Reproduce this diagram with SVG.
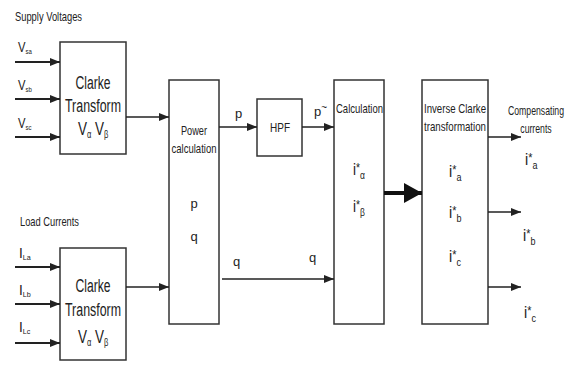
<svg xmlns="http://www.w3.org/2000/svg" width="579" height="365" viewBox="0 0 579 365">
<style>
text{font-family:"Liberation Sans Narrow","Arial Narrow","Liberation Sans",sans-serif;fill:#222}
.box{fill:#fff;stroke:#333;stroke-width:1.5}
.ln{fill:none;stroke:#222;stroke-width:1.5}
.in{fill:none;stroke:#222;stroke-width:2}
.s{font-size:13px}
.m{font-size:16px}
.v{font-size:15px}
.l{font-size:18px}
.sub{font-size:10px}
.tiny{font-size:8px}
.st{font-size:12px}
</style>
<defs>
<marker id="ah" markerWidth="10" markerHeight="8" refX="10" refY="4" orient="auto" markerUnits="userSpaceOnUse">
<path d="M0,0 L10,4 L0,8 Z" fill="#222"/>
</marker>
<marker id="big" markerWidth="18" markerHeight="20" refX="18" refY="10" orient="auto" markerUnits="userSpaceOnUse">
<path d="M0,0 L18,10 L0,20 Z" fill="#111"/>
</marker>
</defs>
<text x="15" y="21" class="s" textLength="67" lengthAdjust="spacingAndGlyphs">Supply Voltages</text>
<text x="20" y="226" class="s" textLength="59" lengthAdjust="spacingAndGlyphs">Load Currents</text>
<g id="clarke1">
<rect class="box" x="60" y="42" width="66" height="112"/>
<text x="93" y="89" class="l" text-anchor="middle" textLength="35" lengthAdjust="spacingAndGlyphs">Clarke</text>
<text x="93" y="112" class="l" text-anchor="middle" textLength="56" lengthAdjust="spacingAndGlyphs">Transform</text>
<text transform="translate(78,135) scale(0.75,1)" class="l">V<tspan class="sub" dy="3">α</tspan><tspan dy="-3"> V</tspan><tspan class="sub" dy="3">β</tspan></text>
</g>
<g id="clarke2">
<rect class="box" x="60" y="248" width="66" height="112"/>
<text x="93" y="292" class="l" text-anchor="middle" textLength="35" lengthAdjust="spacingAndGlyphs">Clarke</text>
<text x="93" y="316" class="l" text-anchor="middle" textLength="56" lengthAdjust="spacingAndGlyphs">Transform</text>
<text transform="translate(78,343) scale(0.75,1)" class="l">V<tspan class="sub" dy="3">α</tspan><tspan dy="-3"> V</tspan><tspan class="sub" dy="3">β</tspan></text>
</g>
<g id="power">
<rect class="box" x="169" y="80" width="50" height="244"/>
<text x="194" y="135" class="s" text-anchor="middle" textLength="26" lengthAdjust="spacingAndGlyphs">Power</text>
<text x="194" y="153" class="s" text-anchor="middle" textLength="45" lengthAdjust="spacingAndGlyphs">calculation</text>
<text x="194" y="208" class="s" text-anchor="middle">p</text>
<text x="194" y="241" class="s" text-anchor="middle">q</text>
</g>
<g id="hpf">
<rect class="box" x="257" y="99" width="45" height="57"/>
<text x="280" y="132" class="s" text-anchor="middle" textLength="20" lengthAdjust="spacingAndGlyphs">HPF</text>
</g>
<g id="calc">
<rect class="box" x="334" y="80" width="50" height="244"/>
<text x="336" y="113" class="s" textLength="47" lengthAdjust="spacingAndGlyphs">Calculation</text>
<text transform="translate(353,175) scale(0.85,1)" class="m">i<tspan class="st" dy="-3">*</tspan><tspan class="sub" dy="7">α</tspan></text>
<text transform="translate(353,212) scale(0.85,1)" class="m">i<tspan class="st" dy="-3">*</tspan><tspan class="sub" dy="7">β</tspan></text>
</g>
<g id="invclarke">
<rect class="box" x="422" y="80" width="66" height="244"/>
<text x="455" y="113" class="s" text-anchor="middle" textLength="62" lengthAdjust="spacingAndGlyphs">Inverse Clarke</text>
<text x="455" y="131" class="s" text-anchor="middle" textLength="62" lengthAdjust="spacingAndGlyphs">transformation</text>
<text transform="translate(449,177) scale(0.9,1)" class="m">i<tspan class="st" dy="-3">*</tspan><tspan class="sub" dy="7">a</tspan></text>
<text transform="translate(449,218) scale(0.9,1)" class="m">i<tspan class="st" dy="-3">*</tspan><tspan class="sub" dy="7">b</tspan></text>
<text transform="translate(449,262) scale(0.9,1)" class="m">i<tspan class="st" dy="-3">*</tspan><tspan class="sub" dy="7">c</tspan></text>
</g>
<g id="outputs">
<text transform="translate(536,115) scale(0.67,1)" class="s" text-anchor="middle">Compensating</text>
<text transform="translate(536,133) scale(0.67,1)" class="s" text-anchor="middle">currents</text>
<text transform="translate(525,165) scale(0.9,1)" class="m">i<tspan class="st" dy="-3">*</tspan><tspan class="sub" dy="7">a</tspan></text>
<text transform="translate(523,241) scale(0.9,1)" class="m">i<tspan class="st" dy="-3">*</tspan><tspan class="sub" dy="7">b</tspan></text>
<text transform="translate(524,318) scale(0.9,1)" class="m">i<tspan class="st" dy="-3">*</tspan><tspan class="sub" dy="7">c</tspan></text>
</g>
<g id="input-labels">
<text transform="translate(18,52) scale(0.75,1)" class="v">V<tspan class="tiny" dy="2">sa</tspan></text>
<text transform="translate(18,90) scale(0.75,1)" class="v">V<tspan class="tiny" dy="2">sb</tspan></text>
<text transform="translate(18,128) scale(0.75,1)" class="v">V<tspan class="tiny" dy="2">sc</tspan></text>
<text transform="translate(19,258) scale(0.9,1)" class="v">I<tspan class="tiny" dy="2">La</tspan></text>
<text transform="translate(19,295) scale(0.9,1)" class="v">I<tspan class="tiny" dy="2">Lb</tspan></text>
<text transform="translate(19,332) scale(0.9,1)" class="v">I<tspan class="tiny" dy="2">Lc</tspan></text>
<text x="235" y="118" class="s">p</text>
<text x="314" y="116" class="s">p<tspan class="sub" dy="-5">~</tspan></text>
<text x="233" y="266" class="s">q</text>
<text x="309" y="262" class="s">q</text>
</g>
<g id="connectors">
<line class="in" x1="15" y1="62" x2="60" y2="62" marker-end="url(#ah)"/>
<line class="in" x1="15" y1="99" x2="60" y2="99" marker-end="url(#ah)"/>
<line class="in" x1="15" y1="137" x2="60" y2="137" marker-end="url(#ah)"/>
<line class="in" x1="15" y1="267" x2="60" y2="267" marker-end="url(#ah)"/>
<line class="in" x1="15" y1="304" x2="60" y2="304" marker-end="url(#ah)"/>
<line class="in" x1="15" y1="343" x2="60" y2="343" marker-end="url(#ah)"/>
<line class="ln" x1="126" y1="117" x2="169" y2="117" marker-end="url(#ah)"/>
<line class="ln" x1="126" y1="287" x2="169" y2="287" marker-end="url(#ah)"/>
<line class="ln" x1="219" y1="127" x2="257" y2="127" marker-end="url(#ah)"/>
<line class="ln" x1="302" y1="127" x2="334" y2="127" marker-end="url(#ah)"/>
<line class="ln" x1="222" y1="279" x2="334" y2="279" marker-end="url(#ah)"/>
<line stroke="#111" stroke-width="4" x1="384" y1="193" x2="422" y2="193" marker-end="url(#big)"/>
<line class="ln" x1="488" y1="137" x2="521" y2="137" marker-end="url(#ah)"/>
<line class="ln" x1="488" y1="212" x2="521" y2="212" marker-end="url(#ah)"/>
<line class="ln" x1="488" y1="287" x2="521" y2="287" marker-end="url(#ah)"/>
</g>
</svg>
